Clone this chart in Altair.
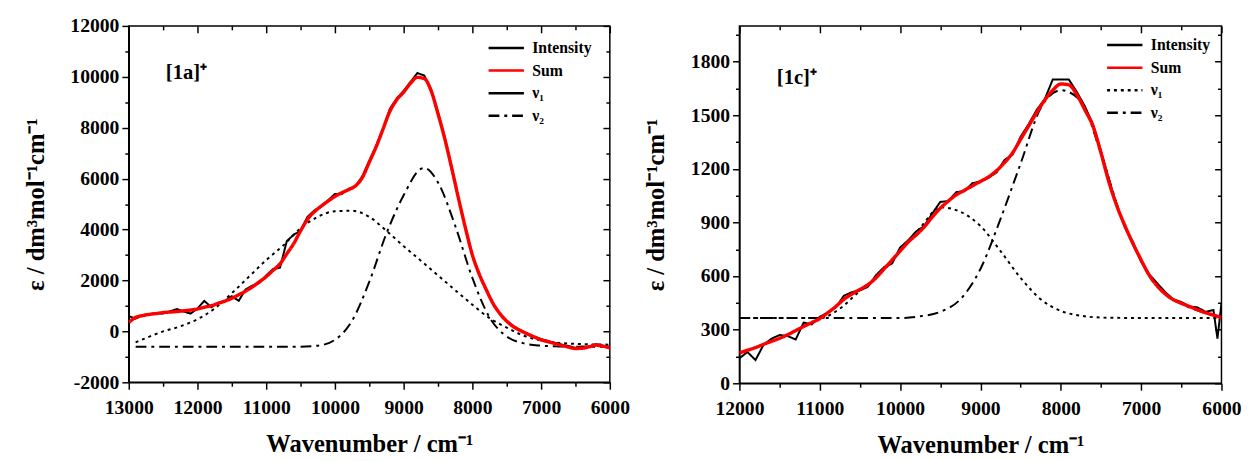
import altair as alt
import pandas as pd

FONT = "Liberation Serif"
SERIES = ["Intensity", "Sum", "ν₁", "ν₂"]
COLORS = ["#000000", "#ff0000", "#000000", "#000000"]

# ---------------- panel [1a]+ ----------------
A_X = list(range(13000, 5999, -100))
A_SUM = [350, 550, 620, 670, 700, 740, 760, 780, 810, 840, 880,
         950, 1010, 1100, 1190, 1300, 1440, 1580, 1750, 1950, 2150,
         2400, 2650, 3050, 3450, 3950, 4400, 4700, 4920, 5120, 5300,
         5450, 5570, 5720, 6050, 6650, 7250, 7950, 8650, 9100, 9400,
         9750, 9980, 9930, 9450, 8550, 7550, 6400, 5200, 4050, 3000,
         2250, 1650, 1100, 700, 400, 180, 30, -100, -220, -330,
         -400, -480, -550, -620, -670, -660, -600, -540, -580, -650]
A_INT = [600, 500, 640, 680, 720, 700, 790, 880, 780, 700, 900,
         1200, 950, 1120, 1200, 1380, 1200, 1650, 1800, 1900, 2200,
         2450, 2500, 3550, 3800, 3950, 4500, 4750, 4900, 5150, 5400,
         5400, 5600, 5700, 6100, 6700, 7300, 7950, 8750, 9150, 9450,
         9800, 10150, 10050, 9500, 8600, 7600, 6450, 5200, 4050, 3000,
         2250, 1650, 1100, 700, 420, 200, 50, -80, -200, -300,
         -380, -450, -520, -580, -650, -600, -620, -500, -560, -620]
A_NU1_X = [12900, 12750, 12500, 12250, 12000, 11750, 11500, 11250, 11000,
           10750, 10500, 10250, 10000, 9750, 9500, 9250, 9000, 8750, 8500,
           8250, 8000, 7750, 7500, 7250, 7000, 6750, 6500, 6250, 6000]
A_NU1 = [-430, -260, 0, 200, 480, 900, 1500, 2150, 2800,
         3380, 4050, 4500, 4720, 4740, 4500, 3950, 3350, 2780, 2200,
         1620, 1050, 520, 150, -170, -360, -450, -490, -510, -520]
A_NU2_X = [12900, 12750, 12500, 12250, 12000, 11750, 11500, 11250, 11000,
           10750, 10500, 10250, 10000, 9750, 9500, 9250, 9000, 8750, 8700,
           8500, 8250, 8000, 7750, 7500, 7250, 7000, 6750, 6500, 6250, 6000]
A_NU2 = [-600, -600, -600, -600, -600, -600, -600, -600, -600,
         -600, -600, -560, -330, 420, 1950, 3850, 5350, 6380, 6420,
         5850, 4150, 2100, 550, -200, -470, -560, -590, -600, -600, -600]

# ---------------- panel [1c]+ ----------------
B_X = list(range(12000, 5999, -100))
B_SUM = [170, 185, 200, 218, 235, 252, 272, 295, 318, 340, 362,
         395, 430, 470, 500, 525, 552, 590, 640, 690, 740,
         790, 830, 875, 930, 980, 1020, 1055, 1080, 1105, 1130,
         1155, 1190, 1235, 1290, 1365, 1440, 1515, 1585, 1640, 1675,
         1670, 1615, 1530, 1440, 1290, 1125, 990, 880, 780, 690,
         605, 545, 500, 468, 448, 430, 412, 395, 382, 368]
B_INT_X = list(range(12000, 6099, -100)) + [6050, 6000]
B_INT = [140, 175, 130, 215, 250, 270, 265, 245, 340, 330, 372,
         395, 425, 490, 510, 520, 540, 605, 650, 670, 760,
         800, 850, 880, 950, 1015, 1020, 1070, 1075, 1120, 1130,
         1150, 1180, 1250, 1280, 1380, 1450, 1530, 1590, 1700, 1700,
         1700, 1630, 1550, 1450, 1300, 1140, 990, 870, 790, 680,
         610, 560, 510, 470, 455, 430, 425, 400, 410, 250, 450]
B_C_X = list(range(12000, 5999, -250))
B_NU1 = [365, 365, 365, 365, 365, 418, 518, 612, 738, 870, 985, 960, 880,
         740, 590, 470, 405, 378, 368, 366, 365, 365, 365, 365, 365]
B_NU2 = [365, 365, 365, 365, 365, 365, 365, 365, 365, 375, 400, 470, 640,
         920, 1230, 1540, 1640, 1580, 1285, 935, 690, 520, 445, 400, 368]

# annotation labels (data coordinates)
LABELS = ["[1a]⁺", "[1c]⁺"]
LABEL_X = [12460, 11535]
LABEL_Y = [10150, 1707]

DOTTED = [3, 4]
DASHDOT = [11, 5, 3, 5]
SOLID = [1, 0]


def frame(xs, ys, name):
    return pd.DataFrame({"x": xs, "y": ys, "series": name})


def tick_size(maj):
    return {"condition": {"test": f"datum.value % {maj} === 0", "value": 7}, "value": 4}


def panel(int_x, int_y, sum_x, sum_y, n1x, n1y, n2x, n2y, dash_range,
          xdom, ydom, xstep, xmaj, ystep, ymaj, label, lx, ly,
          leg_x, leg_y, w, h):
    xvals = list(range(xdom[0], xdom[1] + 1, xstep))
    yvals = list(range(ydom[0], ydom[1] + 1, ystep))
    if yvals[-1] >= ydom[1] and ydom[1] % ymaj != 0:
        yvals = yvals[:-1]
    xaxis = alt.Axis(
        orient="bottom", values=xvals, format="d", title="Wavenumber / cm⁻¹",
        labelExpr=f"datum.value % {xmaj} === 0 ? replace(datum.label, '−', '-') : ''",
        tickSize=tick_size(xmaj),
        labelPadding=9, titlePadding=14, labelFlush=False, labelOverlap=False, labelBound=False,
    )
    yaxis = alt.Axis(
        orient="left", values=yvals, format="d", title="ε / dm³mol⁻¹cm⁻¹",
        labelExpr=f"datum.value % {ymaj} === 0 ? replace(datum.label, '−', '-') : ''",
        tickSize=tick_size(ymaj),
        labelPadding=3, titlePadding=22, labelFlush=False, labelOverlap=False, labelBound=False,
    )
    # mirrored inward ticks on the top and right borders
    xaxis2 = alt.Axis(orient="bottom", offset=-h, values=xvals, labels=False, domain=False,
                      title=None, tickSize=tick_size(xmaj))
    yaxis2 = alt.Axis(orient="left", offset=-w, values=yvals, labels=False, domain=False,
                      title=None, tickSize=tick_size(ymaj))
    xs = alt.Scale(domain=[xdom[0], xdom[1]], reverse=True, nice=False, zero=False)
    ys = alt.Scale(domain=[ydom[0], ydom[1]], nice=False, zero=False)
    legend = alt.Legend(
        title=None, orient="none", legendX=leg_x, legendY=leg_y,
        labelFont=FONT, labelFontSize=16, labelFontWeight="bold", labelColor="black",
        symbolType="M-2,0H2", symbolSize=324, symbolStrokeWidth=2.5,
        rowPadding=4, labelOffset=16, padding=0,
    )
    cscale = alt.Scale(domain=SERIES, range=COLORS)
    dscale = alt.Scale(domain=SERIES, range=dash_range)

    def enc(base, main_axis=False, dash_field=True):
        e = dict(
            x=alt.X("x:Q", scale=xs, axis=xaxis if main_axis else None),
            y=alt.Y("y:Q", scale=ys, axis=yaxis if main_axis else None),
            color=alt.Color("series:N", scale=cscale, legend=legend),
        )
        if dash_field:
            e["strokeDash"] = alt.StrokeDash("series:N", scale=dscale, legend=legend)
        return base.encode(**e)

    l_nu1 = enc(alt.Chart(frame(n1x, n1y, SERIES[2])).mark_line(
        strokeWidth=2, interpolate="monotone", strokeDash=dash_range[2] if dash_range[2] != SOLID else DOTTED,
        clip=True), dash_field=False)
    l_nu2 = enc(alt.Chart(frame(n2x, n2y, SERIES[3])).mark_line(
        strokeWidth=2, interpolate="monotone", clip=True))
    l_int = enc(alt.Chart(frame(int_x, int_y, SERIES[0])).mark_line(
        strokeWidth=2, interpolate="linear", clip=True))
    l_sum = enc(alt.Chart(frame(sum_x, sum_y, SERIES[1])).mark_line(
        strokeWidth=3.5, interpolate="monotone", clip=True), main_axis=True)
    txt = alt.Chart(pd.DataFrame({"x": [lx], "y": [ly], "t": [label]})).mark_text(
        font=FONT, fontSize=21, fontWeight="bold", align="left", baseline="middle", color="black"
    ).encode(x=alt.X("x:Q", scale=xs, axis=xaxis2), y=alt.Y("y:Q", scale=ys, axis=yaxis2), text="t:N")
    return alt.layer(l_nu1, l_nu2, l_int, l_sum, txt).resolve_axis(
        x="independent", y="independent").properties(width=w, height=h)


left = panel(A_X, A_INT, A_X, A_SUM, A_NU1_X, A_NU1, A_NU2_X, A_NU2,
             [SOLID, SOLID, SOLID, DASHDOT],
             (6000, 13000), (-2000, 12000), 500, 1000, 1000, 2000,
             LABELS[0], LABEL_X[0], LABEL_Y[0], 374, 12, 490, 363)
right = panel(B_INT_X, B_INT, B_X, B_SUM, B_C_X, B_NU1, B_C_X, B_NU2,
              [SOLID, SOLID, DOTTED, DASHDOT],
              (6000, 12000), (0, 2000), 500, 1000, 150, 300,
              LABELS[1], LABEL_X[1], LABEL_Y[1], 382, 9, 491, 364)

chart = alt.hconcat(left, right, spacing=13).resolve_scale(
    color="independent", strokeDash="independent", x="independent", y="independent"
).resolve_legend(color="independent", strokeDash="independent").properties(
    padding={"left": 15, "top": 3, "right": 5, "bottom": 5}
).configure_view(stroke="black", strokeWidth=1.5).configure_axis(
    domainColor="black", domainWidth=1.5, tickColor="black", tickWidth=1.5,
    labelFont=FONT, labelFontSize=20, labelFontWeight="bold", labelColor="black",
    titleFont=FONT, titleFontSize=25, titleFontWeight="bold", titleColor="black",
    grid=False,
)

chart.save("out.html", embed_options={"renderer": "svg", "actions": False})
